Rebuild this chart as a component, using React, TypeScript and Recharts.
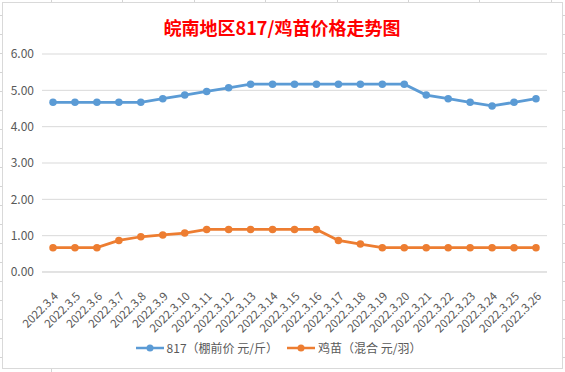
import React from 'react';
import { LineChart, Line, XAxis, YAxis, CartesianGrid, Legend } from 'recharts';

const dates = [
  '2022.3.4', '2022.3.5', '2022.3.6', '2022.3.7', '2022.3.8', '2022.3.9',
  '2022.3.10', '2022.3.11', '2022.3.12', '2022.3.13', '2022.3.14', '2022.3.15',
  '2022.3.16', '2022.3.17', '2022.3.18', '2022.3.19', '2022.3.20', '2022.3.21',
  '2022.3.22', '2022.3.23', '2022.3.24', '2022.3.25', '2022.3.26',
];

const price817 = [
  4.67, 4.67, 4.67, 4.67, 4.67, 4.77, 4.87, 4.97, 5.07, 5.17, 5.17, 5.17,
  5.17, 5.17, 5.17, 5.17, 5.17, 4.87, 4.77, 4.67, 4.57, 4.67, 4.77,
];

const chickPrice = [
  0.67, 0.67, 0.67, 0.87, 0.97, 1.02, 1.07, 1.17, 1.17, 1.17, 1.17, 1.17,
  1.17, 0.87, 0.77, 0.67, 0.67, 0.67, 0.67, 0.67, 0.67, 0.67, 0.67,
];

const yTicks = [0, 1, 2, 3, 4, 5, 6];

const titleText = '皖南地区817/鸡苗价格走势图';
const seriesNames = ['817（棚前价 元/斤）', '鸡苗（混合 元/羽）'];
const colors = ['#5B9BD5', '#ED7D31'];

const data = dates.map((d, i) => ({ date: d, p817: price817[i], chick: chickPrice[i] }));

const FONT = '"Noto Sans CJK SC", "Noto Sans", sans-serif';
const GRID = '#D9D9D9';
const TEXT = '#595959';

const XTick = (props: any) => {
  const { x, y, payload } = props;
  const ax = x + 6;
  const ay = y + 17;
  return (
    <text
      x={ax}
      y={ay}
      transform={`rotate(-45 ${ax} ${ay})`}
      textAnchor="end"
      fill={TEXT}
      fontSize={11.5}
      fontFamily={FONT}
    >
      {payload.value}
    </text>
  );
};

const LegendContent = () => (
  <div
    style={{
      display: 'flex',
      justifyContent: 'center',
      alignItems: 'center',
      fontFamily: FONT,
      fontSize: 12,
      color: TEXT,
      paddingRight: 8,
    }}
  >
    {seriesNames.map((name, i) => (
      <div key={name} style={{ display: 'flex', alignItems: 'center', marginRight: i === 0 ? 9 : 0 }}>
        <svg width={28} height={10} style={{ marginRight: 3 }}>
          <line x1={0} y1={5} x2={28} y2={5} stroke={colors[i]} strokeWidth={2.5} />
          <circle cx={14} cy={5} r={3.5} fill={colors[i]} />
        </svg>
        <span style={{ whiteSpace: 'nowrap' }}>{name}</span>
      </div>
    ))}
  </div>
);

export default function App() {
  const topTicks = [0, 1, 2, 3, 4, 5, 6, 7];
  const sideTicks = Array.from({ length: 19 }, (_, k) => k);
  return (
    <div style={{ position: 'absolute', left: 0, top: 0, width: 565, height: 372, background: '#fff', overflow: 'hidden' }}>
      {topTicks.map((k) => (
        <div key={'t' + k} style={{ position: 'absolute', left: 51 + k * 71.4, top: 0, width: 1, height: 3, background: '#D4D4D4' }} />
      ))}
      <div style={{ position: 'absolute', left: 51, top: 369, width: 1, height: 3, background: '#D4D4D4' }} />
      {sideTicks.map((k) => (
        <React.Fragment key={'s' + k}>
          <div style={{ position: 'absolute', left: 0, top: 15 + k * 19, width: 3, height: 1, background: '#D4D4D4' }} />
          <div style={{ position: 'absolute', left: 562, top: 15 + k * 19, width: 3, height: 1, background: '#D4D4D4' }} />
        </React.Fragment>
      ))}
      <div
        style={{
          position: 'absolute',
          left: 2,
          top: 2,
          width: 559,
          height: 365,
          border: '1px solid ' + GRID,
          background: '#fff',
        }}
      />
      <div
        style={{
          position: 'absolute',
          left: 2,
          top: 15,
          width: 560,
          textAlign: 'center',
          color: '#FF0000',
          fontFamily: FONT,
          fontWeight: 700,
          fontSize: 18,
          lineHeight: '24px',
        }}
      >
        {titleText}
      </div>
      <div style={{ position: 'absolute', left: 0, top: 0 }}>
        <LineChart width={565} height={372} data={data} margin={{ top: 54, right: 18, left: 0, bottom: 0 }}>
          <CartesianGrid vertical={false} stroke={GRID} strokeWidth={1} />
          <XAxis
            dataKey="date"
            height={100}
            axisLine={{ stroke: GRID }}
            tickLine={false}
            interval={0}
            padding={{ left: 11, right: 11 }}
            tick={<XTick />}
          />
          <YAxis
            width={42}
            domain={[0, 6]}
            ticks={yTicks}
            axisLine={false}
            tickLine={false}
            tickFormatter={(v: number) => v.toFixed(2)}
            tick={{ fill: TEXT, fontSize: 12, fontFamily: FONT }}
          />
          <Legend
            verticalAlign="middle"
            layout="horizontal"
            align="center"
            content={<LegendContent />}
            wrapperStyle={{ top: 339, left: 0, width: 565 }}
          />
          <Line
            type="linear"
            dataKey="p817"
            name={seriesNames[0]}
            stroke={colors[0]}
            strokeWidth={2.75}
            dot={{ r: 3.75, fill: colors[0], stroke: colors[0], strokeWidth: 0 }}
            isAnimationActive={false}
          />
          <Line
            type="linear"
            dataKey="chick"
            name={seriesNames[1]}
            stroke={colors[1]}
            strokeWidth={2.75}
            dot={{ r: 3.75, fill: colors[1], stroke: colors[1], strokeWidth: 0 }}
            isAnimationActive={false}
          />
        </LineChart>
      </div>
    </div>
  );
}
